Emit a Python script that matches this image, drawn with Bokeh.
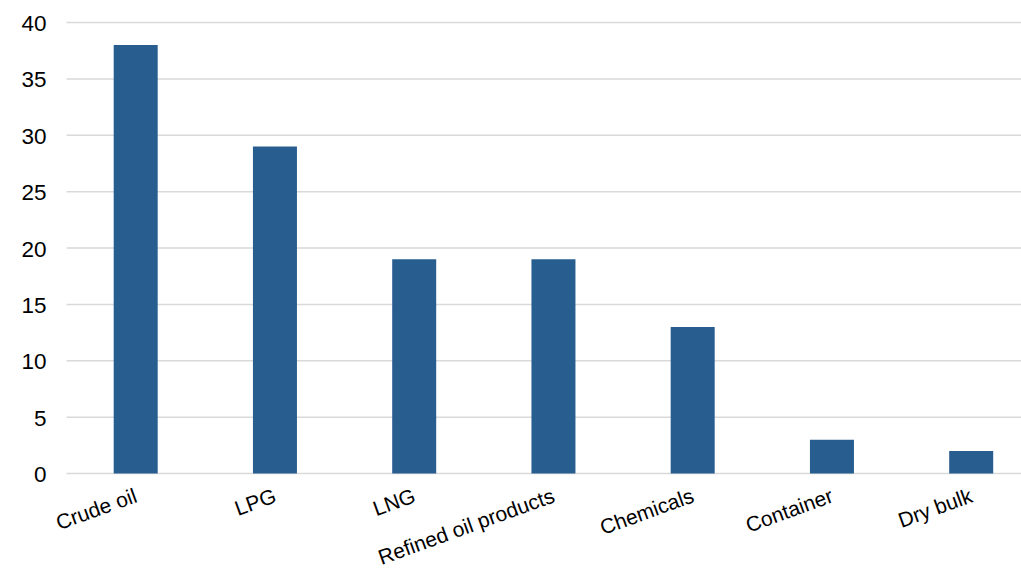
import math
from bokeh.plotting import figure
from bokeh.models import Range1d, ColumnDataSource
from bokeh.core.properties import value
from bokeh.embed import file_html
from bokeh.resources import INLINE

# Cargo categories and their values
categories = ["Crude oil", "LPG", "LNG", "Refined oil products", "Chemicals", "Container", "Dry bulk"]
values = [38, 29, 19, 19, 13, 3, 2]
y_ticks = [0, 5, 10, 15, 20, 25, 30, 35, 40]
y_tick_labels = [str(t) for t in y_ticks]

positions = list(range(len(categories)))
bars = ColumnDataSource(data=dict(x=positions, top=values, name=categories,
                                  base=[0] * len(categories)))

FONT = "Liberation Sans"
GRID = "#D9D9D9"
BAR = "#285D8F"

W, H = 1021, 570
TOP_PX, ZERO_PX = 22, 473          # y = 40 and y = 0 rows
LEFT_PX, FIRST_PX, STEP_PX = 66, 135.2, 139.25   # plot area left, first bar centre, bar pitch

# The frame fills the whole canvas so the slanted category names are not
# clipped; x and y ranges are chosen so 40 units span 450 px and the
# bars sit on a 139 px pitch.
px_per_unit = (ZERO_PX - TOP_PX) / 40
x_start = -FIRST_PX / STEP_PX
x_end = (W - FIRST_PX) / STEP_PX
x_left = (LEFT_PX - FIRST_PX) / STEP_PX
y_bottom = -(H - ZERO_PX) / px_per_unit
y_top = 40 + TOP_PX / px_per_unit

p = figure(
    width=W, height=H,
    x_range=Range1d(x_start, x_end), y_range=Range1d(y_bottom, y_top),
    output_backend="svg", toolbar_location=None,
    min_border=0,
)
p.outline_line_color = None
p.background_fill_color = "white"
p.border_fill_color = "white"
p.axis.visible = False
p.grid.visible = False

# horizontal gridlines across the plot area
grid = ColumnDataSource(data=dict(
    x0=[x_left] * len(y_ticks), x1=[x_end] * len(y_ticks), y=y_ticks, label=y_tick_labels))
p.segment(x0="x0", x1="x1", y0="y", y1="y", source=grid,
          line_color=GRID, line_width=1.5)

# value labels left of the plot area
p.text(x="x0", y="y", text="label", source=grid,
       text_align="right", text_baseline="middle", x_offset=-20, y_offset=1,
       text_font=value(FONT), text_font_size="22.5px", text_color="black")

p.vbar(x="x", top="top", bottom=0, width=0.316, source=bars,
       fill_color=BAR, line_color=None)

# slanted category names, right end anchored under each bar
p.text(x="x", y="base", text="name", source=bars,
       angle=math.radians(20), text_align="right", text_baseline="middle",
       x_offset=0, y_offset=21,
       text_font=value(FONT), text_font_size="21px", text_color="black")

open("out.html", "w").write(file_html(p, INLINE))
